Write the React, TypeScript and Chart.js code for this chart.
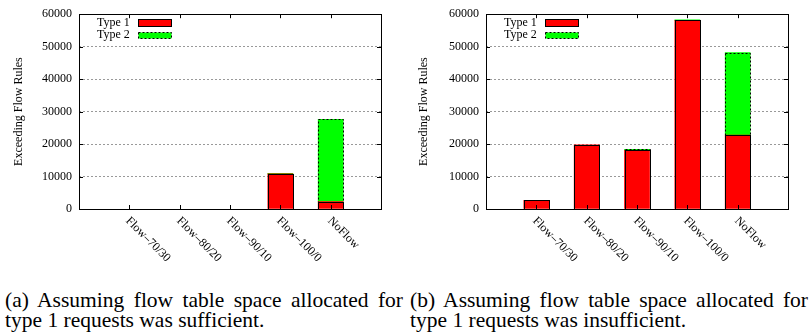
import React, { useEffect, useRef } from "react";
import { Chart, registerables } from "chart.js";

Chart.register(...registerables);

const categories = ["", "Flow–70/30", "Flow–80/20", "Flow–90/10", "Flow–100/0", "NoFlow", ""];
const seriesNames = ["Type 1", "Type 2"];
const leftType1 = [null, 0, 0, 0, 10800, 2300, null];
const leftType2 = [null, 0, 0, 0, 150, 25300, null];
const rightType1 = [null, 2700, 19800, 18100, 58100, 22800, null];
const rightType2 = [null, 0, 0, 300, 200, 25400, null];
const yMin = 0;
const yMax = 60000;
const yStep = 10000;
const yTitle = "Exceeding Flow Rules";
const captionA = ["(a) Assuming flow table space allocated for", "type 1 requests was sufficient."];
const captionB = ["(b) Assuming flow table space allocated for", "type 1 requests was insufficient."];

const FONT = '"Liberation Serif", "DejaVu Serif", serif';
const colors = ["#ff0000", "#00ff00"];

const gnuplotPlugin = {
  id: "gnuplotLook",
  afterDatasetsDraw(chart: any) {
    const ctx = chart.ctx;
    ctx.save();
    chart.data.datasets.forEach((ds: any, di: number) => {
      const meta = chart.getDatasetMeta(di);
      meta.data.forEach((el: any, i: number) => {
        if (!ds.data[i]) return;
        const p = el.getProps(["x", "y", "base", "width"], true);
        const h = Math.abs(p.base - p.y);
        if (h < 0.5) return;
        const x0 = Math.round(p.x - p.width / 2) + 0.5;
        const x1 = Math.round(p.x + p.width / 2) + 0.5;
        const y0 = Math.round(Math.min(p.y, p.base)) + 0.5;
        const y1 = Math.round(Math.max(p.y, p.base)) + 0.5;
        ctx.strokeStyle = "#000";
        ctx.lineWidth = 1;
        ctx.setLineDash(di === 1 ? [2, 2] : []);
        ctx.strokeRect(x0, y0, x1 - x0, y1 - y0);
      });
    });
    ctx.restore();
  },
  afterDraw(chart: any) {
    const ctx = chart.ctx;
    const a = chart.chartArea;
    const xs = chart.scales.x;
    const ys = chart.scales.y;
    ctx.save();
    ctx.setLineDash([]);
    ctx.strokeStyle = "#000";
    ctx.lineWidth = 1;
    ctx.strokeRect(Math.round(a.left) + 0.5, Math.round(a.top) + 0.5, Math.round(a.right - a.left), Math.round(a.bottom - a.top));
    ys.ticks.forEach((t: any) => {
      const y = Math.round(ys.getPixelForValue(t.value)) + 0.5;
      ctx.beginPath();
      ctx.moveTo(a.left, y);
      ctx.lineTo(a.left + 4, y);
      ctx.moveTo(a.right, y);
      ctx.lineTo(a.right - 4, y);
      ctx.stroke();
    });
    ctx.fillStyle = "#000";
    ctx.font = `12px ${FONT}`;
    categories.forEach((c, i) => {
      if (!c) return;
      const x = Math.round(xs.getPixelForTick(i)) + 0.5;
      ctx.beginPath();
      ctx.moveTo(x, a.bottom);
      ctx.lineTo(x, a.bottom - 4);
      ctx.moveTo(x, a.top);
      ctx.lineTo(x, a.top + 4);
      ctx.stroke();
      ctx.save();
      ctx.translate(x - 2, a.bottom + 10);
      ctx.rotate(Math.PI / 4);
      ctx.textAlign = "left";
      ctx.textBaseline = "middle";
      ctx.fillText(c, 0, 0);
      ctx.restore();
    });
    const rows = [
      { y0: 5, y1: 12 },
      { y0: 18, y1: 24 },
    ];
    chart.data.datasets.forEach((ds: any, di: number) => {
      const r = rows[di];
      const ty = a.top + (r.y0 + r.y1) / 2;
      ctx.fillStyle = "#000";
      ctx.textAlign = "left";
      ctx.textBaseline = "middle";
      ctx.font = `12px ${FONT}`;
      ctx.fillText(ds.label, a.left + 18, ty);
      const sx = Math.round(a.left + 59) + 0.5;
      const sy = Math.round(a.top + r.y0) + 0.5;
      const sw = 33;
      const sh = r.y1 - r.y0;
      ctx.fillStyle = colors[di];
      ctx.fillRect(sx, sy, sw, sh);
      ctx.setLineDash(di === 1 ? [2, 2] : []);
      ctx.strokeRect(sx, sy, sw, sh);
      ctx.setLineDash([]);
    });
    ctx.restore();
  },
};

function BarPanel(props: {
  type1: (number | null)[];
  type2: (number | null)[];
  left: number;
  width: number;
  height: number;
  yWidth: number;
  padRight: number;
  titlePad: number;
}) {
  const ref = useRef<HTMLCanvasElement | null>(null);
  useEffect(() => {
    if (!ref.current) return;
    const fill = (c: string) => (ctx: any) => (ctx.raw ? c : "rgba(0,0,0,0)");
    const chart = new Chart(ref.current, {
      type: "bar",
      data: {
        labels: categories,
        datasets: [
          { label: seriesNames[0], data: props.type1, backgroundColor: fill(colors[0]), borderWidth: 0, barThickness: 25, stack: "s" },
          { label: seriesNames[1], data: props.type2, backgroundColor: fill(colors[1]), borderWidth: 0, barThickness: 25, stack: "s" },
        ],
      } as any,
      options: {
        animation: false,
        responsive: false,
        maintainAspectRatio: false,
        devicePixelRatio: 1,
        layout: { padding: { top: 10, right: props.padRight, left: 0, bottom: 0 } },
        plugins: { legend: { display: false }, tooltip: { enabled: false } },
        scales: {
          x: {
            type: "category",
            offset: false,
            stacked: true,
            grid: { display: false },
            border: { display: false },
            ticks: { display: false },
            afterFit: (s: any) => {
              s.height = props.height - 10 - 199;
            },
          },
          y: {
            stacked: true,
            min: yMin,
            max: yMax,
            ticks: {
              stepSize: yStep,
              color: "#000",
              padding: 7,
              font: { family: FONT, size: 12 },
              callback: (v: any) => String(v),
            },
            grid: { color: "#999", drawTicks: false, lineWidth: 1 },
            border: { display: false, dash: [2, 2] },
            title: { display: true, text: yTitle, color: "#000", font: { family: FONT, size: 12 }, padding: { top: props.titlePad, bottom: 0 } },
            afterFit: (s: any) => {
              s.width = props.yWidth;
            },
          },
        },
      } as any,
      plugins: [gnuplotPlugin],
    });
    return () => chart.destroy();
  }, []);
  return (
    <canvas
      ref={ref}
      width={props.width}
      height={props.height}
      style={{ position: "absolute", left: props.left, top: 0, width: props.width, height: props.height }}
    />
  );
}

const captionStyle: React.CSSProperties = {
  position: "absolute",
  top: 290,
  width: 398,
  fontFamily: FONT,
  fontSize: 21.5,
  lineHeight: "20px",
  color: "#000",
  whiteSpace: "nowrap",
};

function Caption(props: { lines: string[]; left: number }) {
  return (
    <div style={{ ...captionStyle, left: props.left }}>
      <div style={{ textAlign: "justify", textAlignLast: "justify", whiteSpace: "normal" }}>{props.lines[0]}</div>
      <div>{props.lines[1]}</div>
    </div>
  );
}

export default function App() {
  return (
    <div style={{ position: "fixed", left: 0, top: 0, width: 811, height: 336, background: "#fff", overflow: "hidden" }}>
      <BarPanel type1={leftType1} type2={leftType2} left={0} width={400} height={270} yWidth={79} padRight={19} titlePad={12} />
      <BarPanel type1={rightType1} type2={rightType2} left={405} width={406} height={270} yWidth={81} padRight={23} titlePad={12} />
      <Caption lines={captionA} left={5} />
      <Caption lines={captionB} left={410} />
    </div>
  );
}
